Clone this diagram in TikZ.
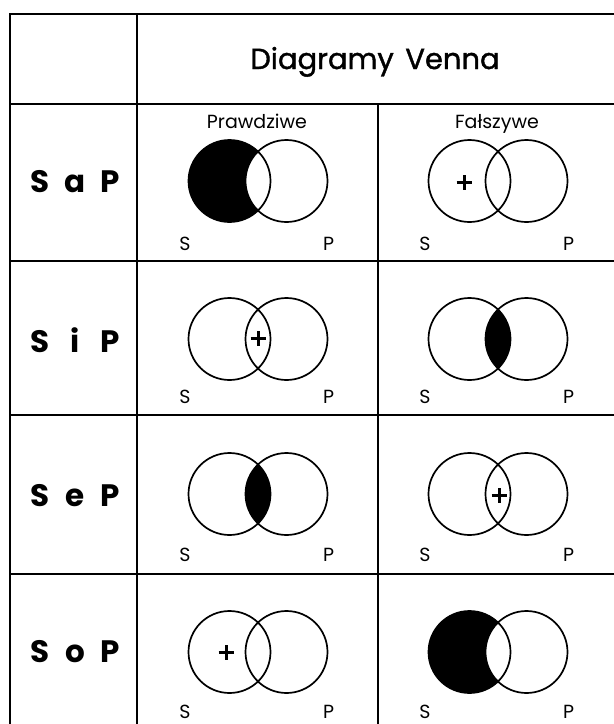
\documentclass[tikz,border=0pt]{standalone}
\usepackage{fontspec}
\setmainfont{Poppins}
\newfontfamily\titlefont{Poppins}[FakeBold=1.3]
\newcommand\VennPair[3]{% #1 name, #2 x of middle, #3 y of centres
  \coordinate (#1L) at (#2-28.5,#3);
  \coordinate (#1R) at (#2+28.5,#3);
}
\newcommand\VennDraw[2]{% #1 name, #2 label dy
  \draw[venn] (#1L) circle[radius=41];
  \draw[venn] (#1R) circle[radius=41];
  \node[setlab] (#1S) at ([shift={(-44.5,#2)}]#1L) {S};
  \node[setlab] (#1P) at ([shift={(42,#2)}]#1R) {P};
}
\newcommand\PlusAt[2]{% #1 name, #2 position
  \coordinate (#1) at (#2);
  \draw[plusline] ([xshift=-7.5pt]#1) -- ([xshift=7.5pt]#1);
  \draw[plusline] ([yshift=-7.5pt]#1) -- ([yshift=7.5pt]#1);
}
\begin{document}
\begin{tikzpicture}[x=1pt,y=-1pt,
  grid/.style={line width=1.8pt, line cap=rect},
  venn/.style={line width=1.7pt},
  plusline/.style={line width=3pt},
  rowlab/.style={font=\fontsize{31}{34}\selectfont\bfseries, inner sep=0pt},
  headlab/.style={font=\fontsize{29}{32}\titlefont, inner sep=0pt, anchor=base},
  collab/.style={font=\fontsize{19}{22}\selectfont, inner sep=0pt, anchor=base},
  setlab/.style={font=\fontsize{19}{22}\selectfont, inner sep=0pt}
]
\useasboundingbox (0,0) rectangle (614,724);
\clip (0,0) rectangle (614,724);
\fill[white] (0,0) rectangle (614,724);

% grid
\draw[grid] (10,14) -- (616,14);
\draw[grid] (10,14) -- (10,730);
\draw[grid] (137,14) -- (137,730);
\draw[grid] (378,104) -- (378,730);
\draw[grid] (10,104) -- (616,104);
\draw[grid] (10,261) -- (616,261);
\draw[grid] (10,415) -- (616,415);
\draw[grid] (10,574) -- (616,574);

% headers
\node[headlab] (title) at (375,69) {Diagramy\hspace{0.4em}Venna};
\node[collab] (true) at (257,128.5) {Prawdziwe};
\node[collab] (false) at (497,128.5) {Fałszywe};

% row labels
\node[rowlab] (r1) at (75,182) {\makebox[35pt]{S}\makebox[35pt]{a}\makebox[35pt]{P}};
\node[rowlab] (r2) at (75,340) {\makebox[35pt]{S}\makebox[35pt]{i}\makebox[35pt]{P}};
\node[rowlab] (r3) at (75,496) {\makebox[35pt]{S}\makebox[35pt]{e}\makebox[35pt]{P}};
\node[rowlab] (r4) at (75,652) {\makebox[35pt]{S}\makebox[35pt]{o}\makebox[35pt]{P}};

% centres
\VennPair{a1}{258}{181}
\VennPair{a2}{498}{181}
\VennPair{b1}{258}{339}
\VennPair{b2}{498}{339}
\VennPair{c1}{258}{494}
\VennPair{c2}{498}{494}
\VennPair{d1}{258}{652}
\VennPair{d2}{498}{652}

% SaP true: S outside P shaded
\fill (a1L) circle[radius=41];
\fill[white] (a1R) circle[radius=41];
% SoP false: same
\fill (d2L) circle[radius=41];
\fill[white] (d2R) circle[radius=41];
% SiP false and SeP true: lens shaded
\begin{scope}
  \clip (b2L) circle[radius=41];
  \fill (b2R) circle[radius=41];
\end{scope}
\begin{scope}
  \clip (c1L) circle[radius=41];
  \fill (c1R) circle[radius=41];
\end{scope}

\VennDraw{a1}{63}
\VennDraw{a2}{63}
\VennDraw{b1}{58}
\VennDraw{b2}{58}
\VennDraw{c1}{61}
\VennDraw{c2}{61}
\VennDraw{d1}{60}
\VennDraw{d2}{60}

% plus signs
\PlusAt{pa2}{464,182}
\PlusAt{pb1}{258,338}
\PlusAt{pc2}{499,495}
\PlusAt{pd1}{226,652}
\end{tikzpicture}
\end{document}
